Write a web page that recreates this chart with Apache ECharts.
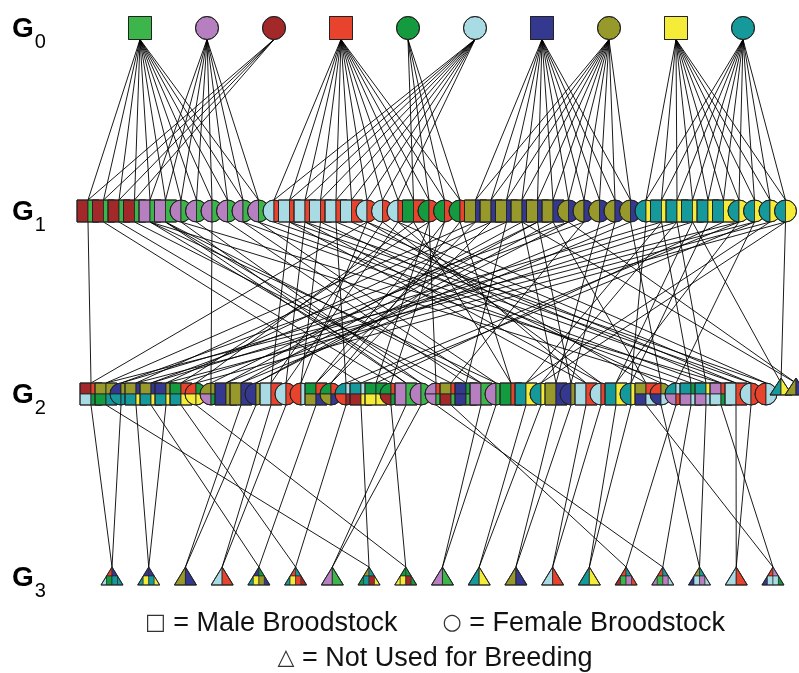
<!DOCTYPE html>
<html><head><meta charset="utf-8">
<script src="https://cdn.jsdelivr.net/npm/echarts@6/dist/echarts.min.js"></script>
<style>html,body{margin:0;padding:0;background:#fff}#c{width:799px;height:673px}</style>
</head><body><div id="c"></div>
<script>
// ---------------- data ----------------
const palette = {g:'#3cb54a', p:'#b67fc0', d:'#a3282a', r:'#e8432d', G:'#149b40', l:'#a8dbe3', n:'#34388f', o:'#979a2a', y:'#f5ec3a', t:'#15999a'};
const genLabels = ['0','1','2','3'];
// G0 founders
const g0Shapes = ['s','c','c','s','c','c','s','c','s','c'];
const g0Colors = ['g','p','d','r','G','l','n','o','y','t'];
// G1 (parents are G0 indices)
const g1Shapes = ['s','s','s','s', 's','s','c','c','c','c','c','c', 'c','s','s','s','s','s','c','c','c', 's','c','c','c', 's','s','s','s','s','s','c','c','c','c','c', 'c','s','s','s','s','s','c','c','c','c'];
const g1Sire = [0,0,0,0, 0,0,0,0,0,0,0,0, 3,3,3,3,3,3,3,3,3, 3,3,3,3, 6,6,6,6,6,6,6,6,6,6,6, 8,8,8,8,8,8,8,8,8,8];
const g1Dam  = [2,2,2,2, 1,1,1,1,1,1,1,1, 5,5,5,5,5,5,5,5,5, 4,4,4,4, 7,7,7,7,7,7,7,7,7,7,7, 9,9,9,9,9,9,9,9,9,9];
// G2 (parents are G1 indices); colours = top-left, top-right, bottom-left, bottom-right
const g2Shapes = ['s','s','c','s','s','s','s','c','c','s','s','c','s','c','c','s','c','c','s','s','c','s','c','c','s','s','s','c','s','s','c','s','c','s','c','s','c','s','c','c','s','s','s','s','c','c','t','t'];
const g2Colors = ['drlG','ooGt','nott','onty','onty','noty','Grty','rGyy','oopG','nono','onon','nono','lrlr','lrlr','rlrl','Gron','Gron','tlrd','tldy','GGyy','GrdG','pgpg','pgpg','prpg','ordg','nGng','pgpg','pgpg','GrGr','tyty','tyty','onon','nono','lrlr','lrlr','tyty','tyty','ornl','ronl','tlpr','tGpl','typl','prlG','lrlr','lrlr','rlrl','tyty','onon'];
const g2Sire = [0,25,37,26,38,27,39,21,29,28,29,30,13,14,15,25,26,16,1,41,2,5,4,5,3,27,5,4,21,37,38,28,29,13,14,39,40,30,15,4,37,38,16,17,13,14,39,28];
const g2Dam  = [18,42,31,43,32,44,22,45,8,34,35,31,19,20,18,23,24,42,43,22,23,6,7,22,32,9,10,11,24,44,45,33,34,20,19,42,36,18,35,43,10,11,6,12,18,20,45,31];
// G3 (parents are G2 indices)
const g3Sire = [0,3,10,12,4,6,21,1,7,26,29,31,33,35,24,23,38,43,37];
const g3Dam  = [2,5,11,13,15,17,22,18,20,27,30,32,34,36,39,40,41,44,42];
// legend text
const legendTop = ['□', '= Male Broodstock', '○', '= Female Broodstock'];
const legendBottom = ['△', '= Not Used for Breeding'];

// ---------------- layout (not data) ----------------
const layout = {
  g0: {start:140, step:67, size:23},
  g1: {start:88, step:15.5, size:22},
  g2: {start:91, step:15, size:22},
  g3: {start:112, step:36.72, w:22, up:10, down:8}
};
const STROKE = '#222';

function clipPoly(subject, clip) {
  let out = subject;
  for (let i = 0; i < clip.length; i++) {
    const a = clip[i], b = clip[(i + 1) % clip.length];
    const inp = out; out = [];
    if (!inp.length) break;
    const inside = p => (b[0]-a[0])*(p[1]-a[1]) - (b[1]-a[1])*(p[0]-a[0]) >= 0;
    const inter = (p, q) => {
      const a1 = b[1]-a[1], b1 = a[0]-b[0], c1 = a1*a[0] + b1*a[1];
      const a2 = q[1]-p[1], b2 = p[0]-q[0], c2 = a2*p[0] + b2*p[1];
      const det = a1*b2 - a2*b1;
      return [(b2*c1 - b1*c2)/det, (a1*c2 - a2*c1)/det];
    };
    for (let j = 0; j < inp.length; j++) {
      const cur = inp[j], prev = inp[(j + inp.length - 1) % inp.length];
      const ci = inside(cur), pi = inside(prev);
      if (ci) { if (!pi) out.push(inter(prev, cur)); out.push(cur); }
      else if (pi) out.push(inter(prev, cur));
    }
  }
  return out;
}

const st = c => ({fill: palette[c], stroke: STROKE, lineWidth: 0.8});

function squarePieces(cx, cy, s, cols) {
  const h = s / 2, out = [];
  if (cols.every(c => c === cols[0])) {
    out.push({type:'rect', shape:{x:cx-h, y:cy-h, width:s, height:s}, style: st(cols[0])});
  } else if (cols[0] === cols[2] && cols[1] === cols[3]) {
    out.push({type:'rect', shape:{x:cx-h, y:cy-h, width:h, height:s}, style: st(cols[0])});
    out.push({type:'rect', shape:{x:cx, y:cy-h, width:h, height:s}, style: st(cols[1])});
  } else {
    out.push({type:'rect', shape:{x:cx-h, y:cy-h, width:h, height:h}, style: st(cols[0])});
    out.push({type:'rect', shape:{x:cx, y:cy-h, width:h, height:h}, style: st(cols[1])});
    out.push({type:'rect', shape:{x:cx-h, y:cy, width:h, height:h}, style: st(cols[2])});
    out.push({type:'rect', shape:{x:cx, y:cy, width:h, height:h}, style: st(cols[3])});
  }
  out.push({type:'rect', shape:{x:cx-h, y:cy-h, width:s, height:s}, style:{fill:'none', stroke:STROKE, lineWidth:1}});
  return out;
}
function circlePieces(cx, cy, s, cols) {
  const r = s / 2, out = [], PI = Math.PI;
  const sec = (a0, a1, c) => ({type:'sector', shape:{cx, cy, r, r0:0, startAngle:a0, endAngle:a1, clockwise:true}, style: st(c)});
  if (cols.every(c => c === cols[0])) {
    out.push({type:'circle', shape:{cx, cy, r}, style: st(cols[0])});
  } else if (cols[0] === cols[2] && cols[1] === cols[3]) {
    out.push(sec(PI/2, 3*PI/2, cols[0]));
    out.push(sec(-PI/2, PI/2, cols[1]));
  } else {
    out.push(sec(PI, 3*PI/2, cols[0]));
    out.push(sec(3*PI/2, 2*PI, cols[1]));
    out.push(sec(PI/2, PI, cols[2]));
    out.push(sec(0, PI/2, cols[3]));
  }
  out.push({type:'circle', shape:{cx, cy, r}, style:{fill:'none', stroke:STROKE, lineWidth:1}});
  return out;
}
function trianglePieces(cx, cy, w, up, down, cells) {
  // cells: either [left,right] or 8 colours (2 rows x 4 cols)
  const hw = w / 2, top = cy - up, bot = cy + down;
  const tri = [[cx, top], [cx + hw, bot], [cx - hw, bot]];
  const out = [];
  if (cells.length === 2) {
    out.push({type:'polygon', shape:{points:[[cx,top],[cx,bot],[cx-hw,bot]]}, style: st(cells[0])});
    out.push({type:'polygon', shape:{points:[[cx,top],[cx+hw,bot],[cx,bot]]}, style: st(cells[1])});
  } else {
    const mid = top + (bot - top) * 0.5;
    const rows = [[top, mid], [mid, bot]];
    for (let ri = 0; ri < 2; ri++) {
      for (let ci = 0; ci < 4; ci++) {
        const x0 = cx - hw + ci * w / 4, x1 = x0 + w / 4;
        const [y0, y1] = rows[ri];
        const poly = clipPoly([[x0,y0],[x1,y0],[x1,y1],[x0,y1]], tri);
        if (poly.length >= 3) out.push({type:'polygon', shape:{points:poly}, style:{fill: palette[cells[ri*4+ci]], stroke:STROKE, lineWidth:0.6}});
      }
    }
  }
  out.push({type:'polygon', shape:{points:tri}, style:{fill:'none', stroke:STROKE, lineWidth:1}});
  return out;
}

// ---------------- derived node records ----------------
const g0X = g0Shapes.map((_, i) => layout.g0.start + i * layout.g0.step);
const g1X = g1Shapes.map((_, i) => layout.g1.start + i * layout.g1.step);
const g2X = g2Shapes.map((_, i) => layout.g2.start + i * layout.g2.step);
const g3X = g3Sire.map((_, i) => layout.g3.start + i * layout.g3.step);

const g0Cols = g0Colors.map(c => [c, c, c, c]);
const g1Cols = g1Shapes.map((_, i) => { const d = g0Colors[g1Dam[i]], s = g0Colors[g1Sire[i]]; return [d, s, d, s]; });
const g2Cols = g2Colors.map(s => s.split(''));
const g3Cells = g3Sire.map((s, i) => {
  const A = g2Cols[s], B = g2Cols[g3Dam[i]];
  const uniq = [];
  [...A, ...B].forEach(c => { if (!uniq.includes(c)) uniq.push(c); });
  if (uniq.length <= 2) return uniq.length === 2 ? uniq : [uniq[0], uniq[0]];
  return [A[0], A[1], B[0], B[1], A[2], A[3], B[2], B[3]];
});

const nodeSets = [
  {gen:0, x:g0X, shapes:g0Shapes, cols:g0Cols, size:layout.g0.size},
  {gen:1, x:g1X, shapes:g1Shapes, cols:g1Cols, size:layout.g1.size},
  {gen:2, x:g2X, shapes:g2Shapes, cols:g2Cols, size:layout.g2.size}
];

// edges: [xParent, genParent, xChild, genChild, offParent(px), offChild(px)]
const edges = [];
g1Shapes.forEach((_, i) => {
  [g1Sire[i], g1Dam[i]].forEach(p => edges.push([g0X[p], 0, g1X[i], 1, layout.g0.size/2, layout.g1.size/2]));
});
g2Shapes.forEach((_, i) => {
  [g2Sire[i], g2Dam[i]].forEach(p => edges.push([g1X[p], 1, g2X[i], 2, layout.g1.size/2, layout.g2.size/2]));
});
g3Sire.forEach((_, i) => {
  [g3Sire[i], g3Dam[i]].forEach(p => edges.push([g2X[p], 2, g3X[i], 3, layout.g2.size/2, layout.g3.up]));
});

// ---------------- chart ----------------
const chart = echarts.init(document.getElementById('c'), null, {renderer:'canvas'});

const nodeSeries = nodeSets.map(set => ({
  type:'custom', coordinateSystem:'cartesian2d', clip:false, z:3, silent:true,
  data: set.x.map((x, i) => [x, set.gen, i]),
  encode:{x:0, y:1},
  renderItem: (params, api) => {
    const i = api.value(2);
    const p = api.coord([api.value(0), api.value(1)]);
    const shape = set.shapes[i], cols = set.cols[i];
    let children;
    if (shape === 's') children = squarePieces(p[0], p[1], set.size, cols);
    else if (shape === 'c') children = circlePieces(p[0], p[1], set.size, cols);
    else {
      const u = [...new Set(cols)];
      children = trianglePieces(p[0], p[1] - 6, 22, 10, 7, u.length === 2 ? u : [u[0], u[0]]);
    }
    return {type:'group', children};
  }
}));

const g3Series = {
  type:'custom', coordinateSystem:'cartesian2d', clip:false, z:3, silent:true,
  data: g3X.map((x, i) => [x, 3, i]),
  encode:{x:0, y:1},
  renderItem: (params, api) => {
    const i = api.value(2);
    const p = api.coord([api.value(0), api.value(1)]);
    return {type:'group', children: trianglePieces(p[0], p[1], layout.g3.w, layout.g3.up, layout.g3.down, g3Cells[i])};
  }
};

const edgeSeries = {
  type:'custom', coordinateSystem:'cartesian2d', clip:false, z:1, silent:true,
  data: edges,
  encode:{x:[0,2], y:[1,3]},
  renderItem: (params, api) => {
    const a = api.coord([api.value(0), api.value(1)]);
    const b = api.coord([api.value(2), api.value(3)]);
    return {type:'line', shape:{x1:a[0], y1:a[1] + api.value(4), x2:b[0], y2:b[1] - api.value(5)},
            style:{stroke:'#000', lineWidth:0.9}};
  }
};

const legendText = '{sym|' + legendTop[0] + '} ' + legendTop[1] + '      {sym|' + legendTop[2] + '} ' + legendTop[3] +
                   '\n{sym|' + legendBottom[0] + '} ' + legendBottom[1];

chart.setOption({
  animation:false,
  backgroundColor:'#fff',
  title:{
    text: legendText, left: 430, top: 601, textAlign:'center',
    textStyle:{fontFamily:'Liberation Sans', fontSize:27, fontWeight:'normal', color:'#111', lineHeight:35,
      rich:{sym:{fontFamily:'DejaVu Sans', fontSize:22, lineHeight:35, color:'#333'}}}
  },
  grid:{left:0, right:0, top:28, bottom:96},
  xAxis:{type:'value', min:0, max:799, show:false},
  yAxis:{type:'value', min:0, max:3, interval:1, inverse:true,
    axisLine:{show:false}, axisTick:{show:false}, splitLine:{show:false},
    axisLabel:{inside:true, margin:12, align:'left',
      formatter: v => '{g|G}{s|' + genLabels[v] + '}',
      rich:{
        g:{fontFamily:'Liberation Sans', fontSize:28, fontWeight:'bold', color:'#000', verticalAlign:'top', lineHeight:30, padding:[2,0,0,0]},
        s:{fontFamily:'Liberation Sans', fontSize:20, color:'#000', verticalAlign:'top', lineHeight:21, padding:[19,0,6,1]}
      }}
  },
  series:[edgeSeries, ...nodeSeries, g3Series]
});
</script>
</body></html>
